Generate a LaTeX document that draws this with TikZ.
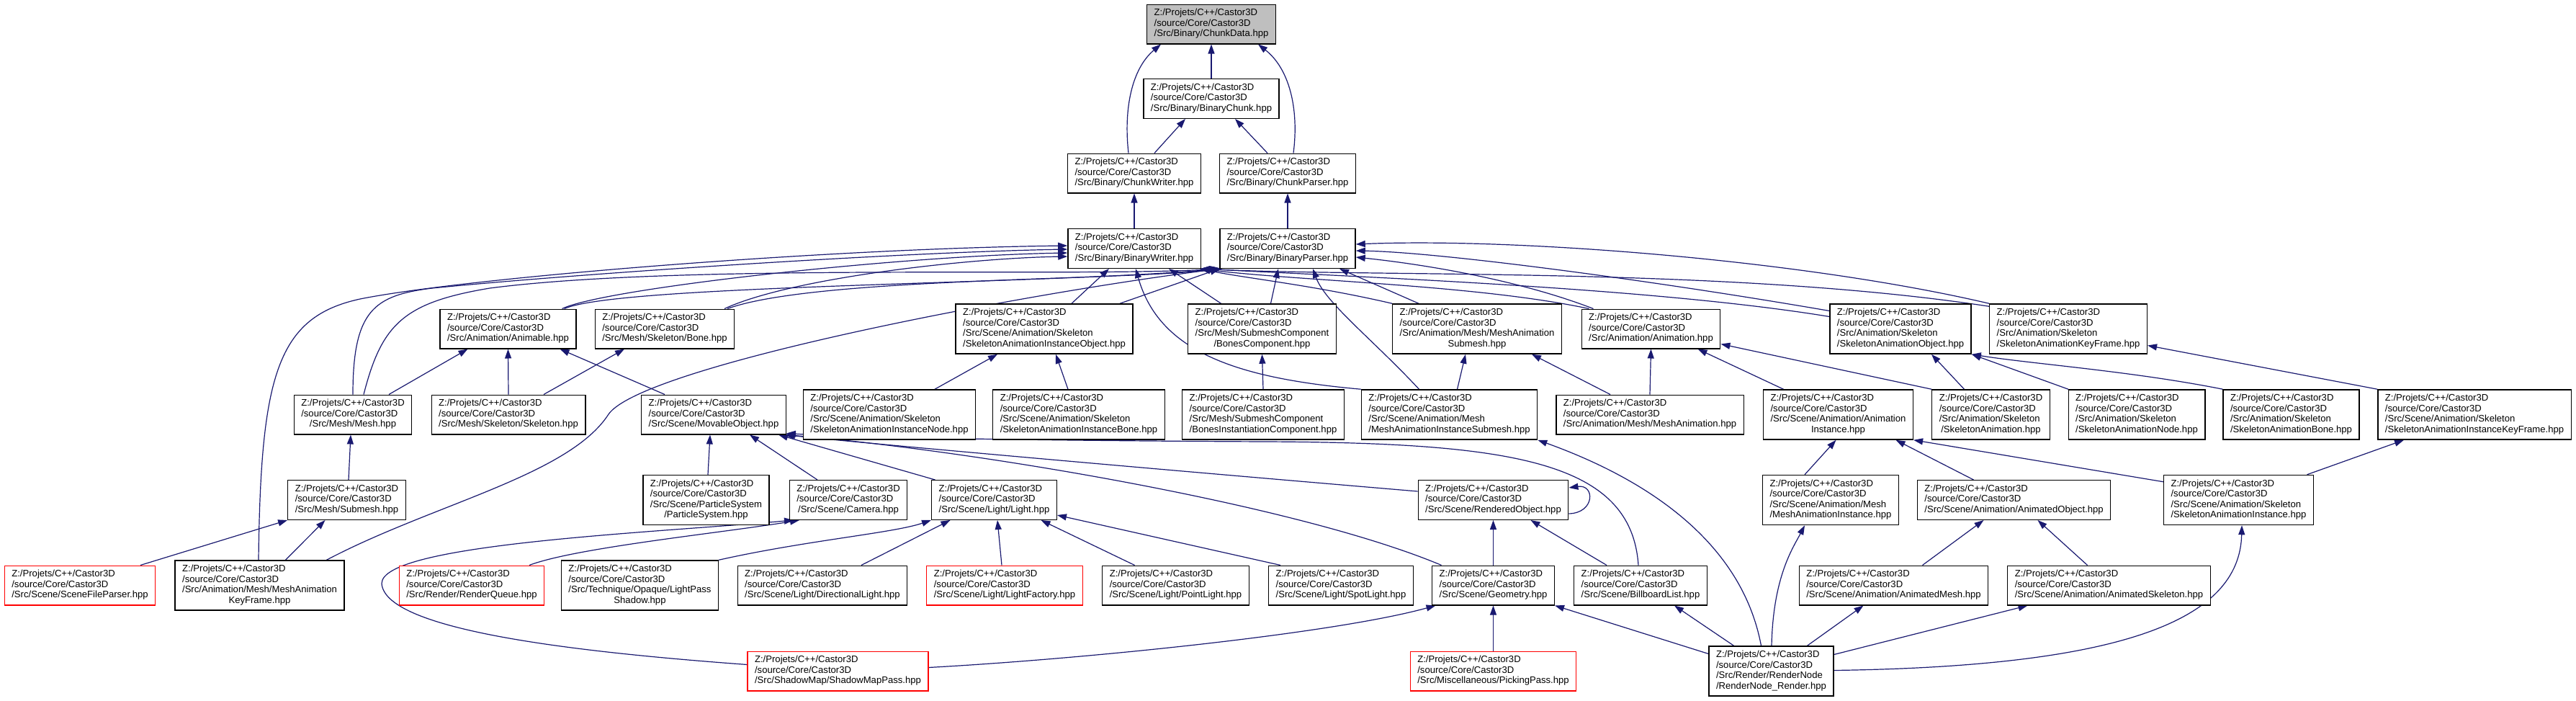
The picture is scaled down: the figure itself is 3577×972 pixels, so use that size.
\documentclass[tikz,border=0pt]{standalone}
\usepackage{fontspec}
\setmainfont{Liberation Sans}
\usetikzlibrary{arrows.meta}
\definecolor{edgeblue}{HTML}{191970}
\definecolor{redframe}{HTML}{FF0000}
\definecolor{rootgray}{HTML}{BFBFBF}
\newcommand{\cl}[1]{\multicolumn{1}{@{}c@{}}{#1}}
\newcommand{\tri}[1]{\begin{tabular}{@{}l@{}}Z:/Projets/C++/Castor3D\\/source/Core/Castor3D\\\cl{#1}\end{tabular}}
\newcommand{\quadl}[2]{\begin{tabular}{@{}l@{}}Z:/Projets/C++/Castor3D\\/source/Core/Castor3D\\#1\\\cl{#2}\end{tabular}}
\pgfdeclarelayer{edges}
\pgfsetlayers{edges,main}
\begin{document}
\begin{tikzpicture}[x=1pt,y=-1pt,
  box/.style={draw=black, line width=1.3pt, fill=white, inner xsep=10pt, inner ysep=5.6pt,
    font=\fontsize{13.1}{14.5}\selectfont, anchor=center},
  redbox/.style={box, draw=redframe},
  rootbox/.style={box, fill=rootgray},
  link/.style={draw=edgeblue, line width=1.2pt, -{Triangle[length=13pt,width=9pt]}}]
\useasboundingbox (0,0) rectangle (3577,972);
% row 0-3
\node[rootbox] (cd) at (1682,33.5) {\tri{/Src/Binary/ChunkData.hpp}};
\node[box] (bc) at (1682,137) {\tri{/Src/Binary/BinaryChunk.hpp}};
\node[box] (cw) at (1575,240.5) {\tri{/Src/Binary/ChunkWriter.hpp}};
\node[box] (cp) at (1788,240.5) {\tri{/Src/Binary/ChunkParser.hpp}};
\node[box] (bw) at (1575,345) {\tri{/Src/Binary/BinaryWriter.hpp}};
\node[box] (bp) at (1788,345) {\tri{/Src/Binary/BinaryParser.hpp}};
% row 4
\node[box] (an) at (705.5,456.5) {\tri{/Src/Animation/Animable.hpp}};
\node[box] (bone) at (923,456.5) {\tri{/Src/Mesh/Skeleton/Bone.hpp}};
\node[box] (saio) at (1450,456.5) {\quadl{/Src/Scene/Animation/Skeleton}{/SkeletonAnimationInstanceObject.hpp}};
\node[box] (bcomp) at (1752.5,456.5) {\quadl{/Src/Mesh/SubmeshComponent}{/BonesComponent.hpp}};
\node[box] (mas) at (2051,456.5) {\quadl{/Src/Animation/Mesh/MeshAnimation}{Submesh.hpp}};
\node[box] (anim) at (2292.5,456.5) {\tri{/Src/Animation/Animation.hpp}};
\node[box] (sao) at (2639,456.5) {\quadl{/Src/Animation/Skeleton}{/SkeletonAnimationObject.hpp}};
\node[box] (sakf) at (2872,456.5) {\quadl{/Src/Animation/Skeleton}{/SkeletonAnimationKeyFrame.hpp}};
% row 5
\node[box] (mesh) at (490,575.5) {\tri{/Src/Mesh/Mesh.hpp}};
\node[box] (sk) at (706,575.5) {\tri{/Src/Mesh/Skeleton/Skeleton.hpp}};
\node[box] (mo) at (991,575.5) {\tri{/Src/Scene/MovableObject.hpp}};
\node[box] (sain) at (1235,575.5) {\quadl{/Src/Scene/Animation/Skeleton}{/SkeletonAnimationInstanceNode.hpp}};
\node[box] (saib) at (1498,575.5) {\quadl{/Src/Scene/Animation/Skeleton}{/SkeletonAnimationInstanceBone.hpp}};
\node[box] (bic) at (1754,575.5) {\quadl{/Src/Mesh/SubmeshComponent}{/BonesInstantiationComponent.hpp}};
\node[box] (mais) at (2012.5,575.5) {\quadl{/Src/Scene/Animation/Mesh}{/MeshAnimationInstanceSubmesh.hpp}};
\node[box] (ma) at (2291,575.5) {\tri{/Src/Animation/Mesh/MeshAnimation.hpp}};
\node[box] (ai) at (2552.5,575.5) {\quadl{/Src/Scene/Animation/Animation}{Instance.hpp}};
\node[box] (ska) at (2764.5,575.5) {\quadl{/Src/Animation/Skeleton}{/SkeletonAnimation.hpp}};
\node[box] (sanode) at (2967,575.5) {\quadl{/Src/Animation/Skeleton}{/SkeletonAnimationNode.hpp}};
\node[box] (sabone) at (3181.5,575.5) {\quadl{/Src/Animation/Skeleton}{/SkeletonAnimationBone.hpp}};
\node[box] (saikf) at (3436,575.5) {\quadl{/Src/Scene/Animation/Skeleton}{/SkeletonAnimationInstanceKeyFrame.hpp}};
% row 6
\node[box] (sm) at (481.5,694) {\tri{/Src/Mesh/Submesh.hpp}};
\node[box] (ps) at (980.5,694) {\quadl{/Src/Scene/ParticleSystem}{/ParticleSystem.hpp}};
\node[box] (cam) at (1178,694) {\tri{/Src/Scene/Camera.hpp}};
\node[box] (light) at (1380.5,694) {\tri{/Src/Scene/Light/Light.hpp}};
\node[box] (ro) at (2073.5,694) {\tri{/Src/Scene/RenderedObject.hpp}};
\node[box] (mai) at (2542,694) {\quadl{/Src/Scene/Animation/Mesh}{/MeshAnimationInstance.hpp}};
\node[box] (aobj) at (2796.5,694) {\tri{/Src/Scene/Animation/AnimatedObject.hpp}};
\node[box] (sai) at (3108.5,694) {\quadl{/Src/Scene/Animation/Skeleton}{/SkeletonAnimationInstance.hpp}};
% row 7
\node[redbox] (sfp) at (111,812.5) {\tri{/Src/Scene/SceneFileParser.hpp}};
\node[box] (makf) at (360.5,812.5) {\quadl{/Src/Animation/Mesh/MeshAnimation}{KeyFrame.hpp}};
\node[redbox] (rq) at (655,812.5) {\tri{/Src/Render/RenderQueue.hpp}};
\node[box] (lps) at (888.5,812.5) {\quadl{/Src/Technique/Opaque/LightPass}{Shadow.hpp}};
\node[box] (dl) at (1142,812.5) {\tri{/Src/Scene/Light/DirectionalLight.hpp}};
\node[redbox] (lf) at (1395,812.5) {\tri{/Src/Scene/Light/LightFactory.hpp}};
\node[box] (pl) at (1632.5,812.5) {\tri{/Src/Scene/Light/PointLight.hpp}};
\node[box] (spot) at (1862,812.5) {\tri{/Src/Scene/Light/SpotLight.hpp}};
\node[box] (geo) at (2073.5,812.5) {\tri{/Src/Scene/Geometry.hpp}};
\node[box] (bl) at (2278,812.5) {\tri{/Src/Scene/BillboardList.hpp}};
\node[box] (amesh) at (2629.5,812.5) {\tri{/Src/Scene/Animation/AnimatedMesh.hpp}};
\node[box] (askel) at (2928.5,812.5) {\tri{/Src/Scene/Animation/AnimatedSkeleton.hpp}};
% row 8
\node[redbox] (smp) at (1163.5,931.5) {\tri{/Src/ShadowMap/ShadowMapPass.hpp}};
\node[redbox] (pick) at (2073.5,931.5) {\tri{/Src/Miscellaneous/PickingPass.hpp}};
\node[box] (rn) at (2459.5,931.5) {\quadl{/Src/Render/RenderNode}{/RenderNode\_Render.hpp}};

\begin{pgfonlayer}{edges}
\fill[white] (0,0) rectangle (3577,972);
% top
\draw[link] (bc.north) -- (cd.south);
\draw[link] ([xshift=-8pt]cw.north) .. controls (1560,150) and (1572,95) .. ([xshift=-70pt]cd.south);
\draw[link] ([xshift=8pt]cp.north) .. controls (1804,150) and (1790,95) .. ([xshift=65pt]cd.south);
\draw[link] ([xshift=28pt]cw.north) -- ([xshift=-36pt]bc.south);
\draw[link] ([xshift=-28pt]cp.north) -- ([xshift=33pt]bc.south);
\draw[link] (bw.north) -- (cw.south);
\draw[link] (bp.north) -- (cp.south);
% into BinaryWriter / BinaryParser from the left
\draw[link] ([xshift=-1.5pt]makf.north) .. controls (362,520) and (385,440) .. (500,415) .. controls (650,385) and (1150,345) .. ([yshift=4pt]bw.west);
\draw[link] (mesh.north) .. controls (490,430) and (520,410) .. (600,400) .. controls (800,380) and (1250,350) .. ([yshift=-1pt]bw.west);
\draw[link] ([xshift=15pt]mesh.north) .. controls (530,450) and (560,420) .. (680,400) .. controls (950,365) and (1500,385) .. (bp.south west);
\draw[link] ([xshift=75pt]an.north) .. controls (840,400) and (1250,355) .. ([yshift=-6pt]bw.west);
\draw[link] ([xshift=78pt]an.north) .. controls (860,395) and (1450,395) .. ([xshift=2pt]bp.south west);
\draw[link] ([xshift=83pt]bone.north) .. controls (1100,385) and (1350,358) .. ([yshift=-11pt]bw.west);
\draw[link] ([xshift=87pt]bone.north) .. controls (1130,385) and (1550,390) .. ([xshift=4pt]bp.south west);
\draw[link] ([xshift=93pt]makf.north) .. controls (600,700) and (790,660) .. (845,575) .. controls (890,510) and (1400,410) .. ([xshift=1pt]bp.south west);
\draw[link] ([xshift=38pt]saio.north) -- ([xshift=-35pt]bw.south);
\draw[link] ([xshift=105pt]saio.north) -- (bp.south west);
\draw[link] ([xshift=-57pt]bcomp.north) -- ([xshift=48pt]bw.south);
\draw[link] ([xshift=12pt]bcomp.north) -- ([xshift=-13pt]bp.south);
\draw[link] (mais.north west) .. controls (1720,525) and (1610,490) .. ([xshift=2pt]bw.south);
\draw[link] ([xshift=-42pt]mais.north) .. controls (1905,470) and (1840,420) .. ([xshift=35pt]bp.south);
% from the right
\draw[link] ([xshift=-81pt]mas.north) -- ([xshift=72pt]bp.south);
\draw[link] (mas.north west) .. controls (1820,395) and (1720,385) .. (bw.south east);
\draw[link] ([xshift=-80pt]anim.north) .. controls (2100,385) and (1960,365) .. ([yshift=-12pt]bp.east);
\draw[link] ([xshift=-86pt]anim.north) .. controls (2050,395) and (1800,390) .. ([xshift=-2pt]bw.south east);
\draw[link] ([yshift=25pt]sao.west) .. controls (2300,390) and (2000,350) .. ([yshift=-3pt]bp.east);
\draw[link] ([yshift=17pt]sao.west) .. controls (2300,400) and (1900,385) .. ([xshift=-1pt]bw.south east);
\draw[link] (sakf.north west) .. controls (2500,360) and (2100,330) .. ([yshift=6pt]bp.east);
\draw[link] ([yshift=-4pt]sakf.north west) .. controls (2400,370) and (1900,385) .. (bw.south east);
% row 5 to row 4
\draw[link] ([xshift=50pt]mesh.north) -- ([xshift=-56pt]an.south);
\draw[link] (sk.north) -- (an.south);
\draw[link] ([xshift=49pt]sk.north) -- ([xshift=-56pt]bone.south);
\draw[link] ([xshift=-68pt]mo.north) -- ([xshift=72pt]an.south);
\draw[link] ([xshift=63pt]sain.north) -- ([xshift=-65pt]saio.south);
\draw[link] ([xshift=-15pt]saib.north) -- ([xshift=16pt]saio.south);
\draw[link] (bic.north) -- (bcomp.south);
\draw[link] ([xshift=11pt]mais.north) -- ([xshift=-16pt]mas.south);
\draw[link] ([xshift=-55pt]ma.north) -- ([xshift=76pt]mas.south);
\draw[link] (ma.north) -- (anim.south);
\draw[link] ([xshift=-76pt]ai.north) -- ([xshift=65pt]anim.south);
\draw[link] (ska.north west) -- ([yshift=-21pt]anim.east);
\draw[link] ([xshift=-37pt]ska.north) -- ([xshift=43pt]sao.south);
\draw[link] ([xshift=-95pt]sanode.north) -- (sao.south east);
\draw[link] ([xshift=-95pt]sabone.north) .. controls (2960,515) and (2820,505) .. (sao.south east);
\draw[link] (saikf.north west) -- ([yshift=-23pt]sakf.east);
% row 6
\draw[link] ([xshift=2.5pt]sm.north) -- ([xshift=-3pt]mesh.south);
\draw[link] ([xshift=2.5pt]ps.north) -- ([xshift=-5pt]mo.south);
\draw[link] ([xshift=-43pt]cam.north) -- ([xshift=50pt]mo.south);
\draw[link] ([xshift=-82pt]light.north) -- ([xshift=90pt]mo.south);
\draw[link] ([yshift=12pt]ro.west) .. controls (1650,655) and (1250,620) .. ([xshift=98pt]mo.south);
\draw[link] ([xshift=-72pt]geo.north) .. controls (1800,700) and (1350,625) .. ([xshift=100pt]mo.south);
\draw[link] ([xshift=-3pt]bl.north) .. controls (2265,640) and (2100,615) .. (1760,613) .. controls (1500,612) and (1200,608) .. ([yshift=-26pt]mo.east);
\draw[link] ([xshift=-36pt]mai.north) -- ([xshift=-3pt]ai.south);
\draw[link] ([xshift=-56pt]aobj.north) -- ([xshift=80pt]ai.south);
\draw[link] ([yshift=-10pt]sai.north west) -- (ai.south east);
\draw[link] ([xshift=95pt]sai.north) -- ([xshift=-98pt]saikf.south);
% row 7
\draw[link] ([xshift=84pt]sfp.north) -- (sm.south west);
\draw[link] ([xshift=36pt]makf.north) -- ([xshift=-30pt]sm.south);
\draw[link] ([xshift=80pt]rq.north) .. controls (800,760) and (1000,740) .. ([xshift=-68pt]cam.south);
\draw[link] (lps.north east) .. controls (1120,750) and (1240,740) .. (light.south west);
\draw[link] ([xshift=54pt]dl.north) -- ([xshift=-61pt]light.south);
\draw[link] ([xshift=-4pt]lf.north) -- ([xshift=4.5pt]light.south);
\draw[link] ([xshift=-57pt]pl.north) -- ([xshift=65pt]light.south);
\draw[link] ([xshift=-84pt]spot.north) -- ([yshift=-21pt]light.east);
\draw[link] (geo.north) -- (ro.south);
\draw[link] ([xshift=-47pt]bl.north) -- ([xshift=52pt]ro.south);
\draw[link] ([yshift=-19pt]ro.east) .. controls (2215,712) and (2215,672) .. ([yshift=17pt]ro.east);
\draw[link] ([xshift=40pt]amesh.north) -- ([xshift=-42pt]aobj.south);
\draw[link] ([xshift=-30pt]askel.north) -- ([xshift=33pt]aobj.south);
% row 8
\draw[link] ([yshift=9pt]smp.west) .. controls (800,905) and (535,875) .. (530,810) .. controls (530,755) and (900,740) .. ([xshift=-76pt]cam.south);
\draw[link] ([yshift=5pt]smp.east) .. controls (1500,915) and (1850,880) .. ([xshift=-80pt]geo.south);
\draw[link] (pick.north) -- (geo.south);
\draw[link] ([yshift=24pt]rn.west) -- (geo.south east);
\draw[link] ([xshift=-52pt]rn.north) -- ([xshift=47pt]bl.south);
\draw[link] ([xshift=0.5pt]rn.north) .. controls (2462,800) and (2490,760) .. ([xshift=-36pt]mai.south);
\draw[link] ([xshift=50pt]rn.north) -- ([xshift=-42pt]amesh.south);
\draw[link] ([yshift=23pt]rn.east) -- ([xshift=-113pt]askel.south);
\draw[link] ([yshift=1pt]rn.east) .. controls (2950,925) and (3110,860) .. ([xshift=4.5pt]sai.south);
\draw[link] ([xshift=-14pt]rn.north) .. controls (2420,760) and (2300,670) .. (mais.south east);
\end{pgfonlayer}
\end{tikzpicture}
\end{document}
